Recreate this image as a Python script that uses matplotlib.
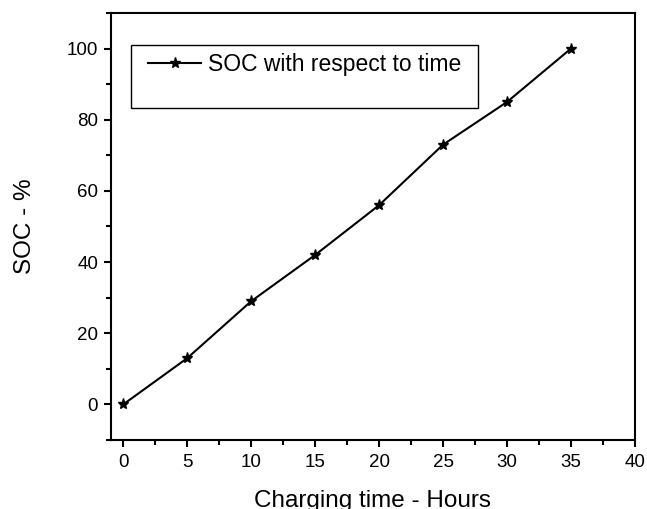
import matplotlib
matplotlib.use('Agg')
import matplotlib.pyplot as plt
from matplotlib.patches import Rectangle
from matplotlib.ticker import MultipleLocator

plt.rcParams['font.family'] = ['Liberation Sans', 'DejaVu Sans']

hours = [0, 5, 10, 15, 20, 25, 30, 35]
soc = [0, 13, 29, 42, 56, 73, 85, 100]

fig = plt.figure(figsize=(6.47, 5.09), dpi=100)
ax = fig.add_axes([0.1708, 0.1356, 0.8106, 0.8389])

ax.plot(hours, soc, color='black', lw=1.5, marker='*', ms=8,
        label='SOC with respect to time')

ax.set_xlim(-1, 40)
ax.set_ylim(-10, 110)
ax.xaxis.set_major_locator(MultipleLocator(5))
ax.xaxis.set_minor_locator(MultipleLocator(2.5))
ax.yaxis.set_major_locator(MultipleLocator(20))
ax.yaxis.set_minor_locator(MultipleLocator(10))
ax.tick_params(which='both', direction='out', top=False, right=False,
               width=1.5, labelsize=13.5)
ax.tick_params(which='major', length=5)
ax.tick_params(which='minor', length=3.5)
ax.tick_params(axis='x', pad=5)
ax.tick_params(axis='y', pad=4)
for s in ax.spines.values():
    s.set_linewidth(1.5)

# the reference crops the x label at the bottom edge too
ax.set_xlabel('Charging time - Hours', fontsize=17.5, labelpad=14)
ax.set_ylabel('SOC - %', fontsize=17.5, labelpad=22)

# legend box is much taller than its single entry
ax.add_patch(Rectangle((0.039, 0.777), 0.661, 0.148, transform=ax.transAxes,
                       fill=False, edgecolor='black', lw=1, zorder=3))
ax.legend(loc='upper left', bbox_to_anchor=(0.072, 0.907), frameon=False,
          fontsize=16.5, handlelength=2.3, handletextpad=0.3,
          borderaxespad=0, borderpad=0)

fig.savefig('out.png', dpi=100)
